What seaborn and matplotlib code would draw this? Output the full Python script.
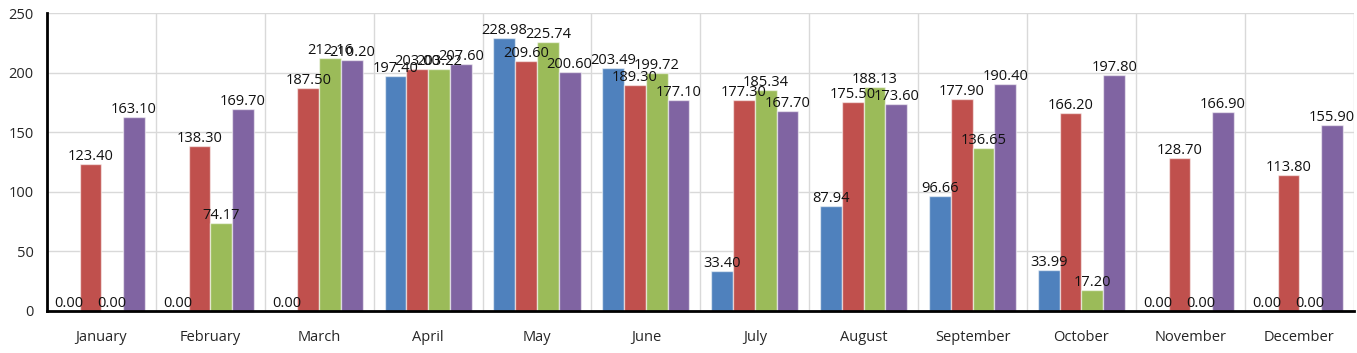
import numpy as np
import pandas as pd
import matplotlib
matplotlib.use("Agg")
import matplotlib.pyplot as plt
import seaborn as sns

months = ["January", "February", "March", "April", "May", "June",
          "July", "August", "September", "October", "November", "December"]
series_names = ["Series 1", "Series 2", "Series 3", "Series 4"]
series1 = [0.00, 0.00, 0.00, 197.40, 228.98, 203.49, 33.40, 87.94, 96.66, 33.99, 0.00, 0.00]
series2 = [123.40, 138.30, 187.50, 203.00, 209.60, 189.30, 177.30, 175.50, 177.90, 166.20, 128.70, 113.80]
series3 = [0.00, 74.17, 212.16, 203.22, 225.74, 199.72, 185.34, 188.13, 136.65, 17.20, 0.00, 0.00]
series4 = [163.10, 169.70, 210.20, 207.60, 200.60, 177.10, 167.70, 173.60, 190.40, 197.80, 166.90, 155.90]
colors = ["#4F81BD", "#C0504D", "#9BBB59", "#8064A2"]

rows = []
for name, vals in zip(series_names, [series1, series2, series3, series4]):
    for m, v in zip(months, vals):
        rows.append({"month": m, "series": name, "value": v})
df = pd.DataFrame(rows)

sns.set_style("white")
plt.rcParams['font.family'] = ['Open Sans', 'DejaVu Sans']

fig = plt.figure(figsize=(13.57, 3.53), dpi=100)
ax = fig.add_axes([0.0346, 0.119, 0.963, 0.844])

sns.barplot(data=df, x="month", y="value", hue="series", order=months,
            hue_order=series_names, palette=colors, saturation=1,
            width=0.8, legend=False, ax=ax,
            edgecolor=(1, 1, 1, 0.55), linewidth=1)

for cont in ax.containers:
    ax.bar_label(cont, fmt="%.2f", padding=0, fontsize=10.5, color="#111111")

ax.set_xlim(-0.5, 11.5)
ax.set_ylim(0, 250)
ax.set_yticks(np.arange(0, 251, 50))
ax.set_xticks(np.arange(-0.5, 12, 1), minor=True)
ax.grid(axis="y", color="#d9d9d9", linewidth=1)
ax.grid(axis="x", which="minor", color="#d9d9d9", linewidth=1)
ax.set_axisbelow(True)

for s in ["top", "right"]:
    ax.spines[s].set_visible(False)
for s in ["left", "bottom"]:
    ax.spines[s].set_linewidth(2)
    ax.spines[s].set_color("black")

ax.tick_params(axis="y", direction="inout", length=11, width=2, labelsize=10.5, pad=4)
ax.tick_params(axis="x", which="major", length=0, labelsize=10.5, pad=14)
ax.tick_params(axis="x", which="minor", direction="inout", length=11, width=2)
ax.set_xlabel("")
ax.set_ylabel("")

fig.savefig("out.png", dpi=100)
